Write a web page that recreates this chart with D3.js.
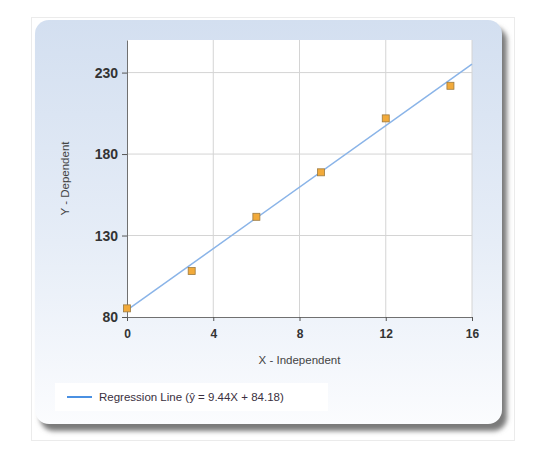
<!DOCTYPE html>
<html>
<head>
<meta charset="utf-8">
<script src="https://cdn.jsdelivr.net/npm/d3@7"></script>
<style>
  body { margin: 0; background: #fff; }
  svg { display: block; font-family: "Liberation Sans", Arial, sans-serif; }
</style>
</head>
<body>
<div id="chart"></div>
<script>
// 数据
var xValues = [0, 3, 6, 9, 12, 15];
var yValues = [85.3, 108.2, 141.5, 168.8, 201.9, 221.9];
var xTicks = [0, 4, 8, 12, 16];
var yTicks = [80, 130, 180, 230];
var slope = 9.44,
    intercept = 84.18;
var legendText = "Regression Line (ŷ = 9.44X + 84.18)";

var width = 560, height = 467;
var plot = {left: 127, right: 472, top: 40, bottom: 317};

var svg = d3.select('#chart').append('svg')
    .attr('width', width)
    .attr('height', height);

var defs = svg.append('defs');
var grad = defs.append('linearGradient')
    .attr('id', 'bg').attr('x1', 0).attr('y1', 0).attr('x2', 0).attr('y2', 1);
grad.append('stop').attr('offset', '0%').attr('stop-color', '#d3dff0');
grad.append('stop').attr('offset', '55%').attr('stop-color', '#e6edf7');
grad.append('stop').attr('offset', '100%').attr('stop-color', '#fbfcfe');

var blur = defs.append('filter').attr('id', 'shadow')
    .attr('x', '-10%').attr('y', '-10%').attr('width', '130%').attr('height', '130%');
blur.append('feGaussianBlur').attr('stdDeviation', 2.5);

// 外框
svg.append('rect')
    .attr('x', 31.5).attr('y', 17.5).attr('width', 483).attr('height', 423)
    .attr('fill', '#fff').attr('stroke', '#ebebeb');

// 阴影
svg.append('rect')
    .attr('x', 40).attr('y', 27).attr('width', 467).attr('height', 404)
    .attr('rx', 14)
    .attr('fill', '#7a7a7a')
    .attr('filter', 'url(#shadow)');

// 面板
svg.append('rect')
    .attr('x', 35).attr('y', 20).attr('width', 467).attr('height', 404)
    .attr('rx', 14)
    .attr('fill', 'url(#bg)');

// 绘图区
svg.append('rect')
    .attr('x', plot.left).attr('y', plot.top)
    .attr('width', plot.right - plot.left).attr('height', plot.bottom - plot.top)
    .attr('fill', '#fff');

var x = d3.scaleLinear().domain([0, 16]).range([plot.left, plot.right]);
var y = d3.scaleLinear().domain([80, 250]).range([plot.bottom, plot.top]);

// 网格线
svg.append('g').selectAll('line').data(xTicks.slice(1)).join('line')
    .attr('x1', d => x(d)).attr('x2', d => x(d))
    .attr('y1', plot.top).attr('y2', plot.bottom)
    .attr('stroke', '#d4d4d4');
svg.append('g').selectAll('line').data(yTicks.slice(1)).join('line')
    .attr('x1', plot.left).attr('x2', plot.right)
    .attr('y1', d => y(d)).attr('y2', d => y(d))
    .attr('stroke', '#d4d4d4');

// 坐标轴
var xAxis = svg.append('g')
    .attr('transform', 'translate(0,' + plot.bottom + ')')
    .call(d3.axisBottom(x).tickValues(xTicks).tickSize(4).tickSizeOuter(0).tickPadding(8));
var yAxis = svg.append('g')
    .attr('transform', 'translate(' + plot.left + ',0)')
    .call(d3.axisLeft(y).tickValues(yTicks).tickSize(5).tickSizeOuter(0).tickPadding(4));

[xAxis, yAxis].forEach(function (g) {
    g.select('.domain').attr('stroke', '#707070');
    g.selectAll('.tick line').attr('stroke', '#555');
    g.selectAll('.tick text')
        .attr('fill', '#333')
        .attr('font-weight', 'bold');
});
xAxis.selectAll('.tick text').attr('font-size', 12);
yAxis.selectAll('.tick text').attr('font-size', 14);

// 轴标题
svg.append('text')
    .attr('x', (plot.left + plot.right) / 2).attr('y', 364)
    .attr('text-anchor', 'middle')
    .attr('font-size', 11.5).attr('fill', '#444')
    .text('X - Independent');
svg.append('text')
    .attr('transform', 'translate(69,' + ((plot.top + plot.bottom) / 2) + ') rotate(-90)')
    .attr('text-anchor', 'middle')
    .attr('font-size', 11.5).attr('fill', '#444')
    .text('Y - Dependent');

// 回归线
svg.append('line')
    .attr('x1', x(0)).attr('y1', y(intercept))
    .attr('x2', x(16)).attr('y2', y(intercept + slope * 16))
    .attr('stroke', '#8ab4e8').attr('stroke-width', 1.5);

// 散点
svg.append('g').selectAll('rect').data(xValues).join('rect')
    .attr('x', (d, i) => x(d) - 3.5)
    .attr('y', (d, i) => y(yValues[i]) - 3.5)
    .attr('width', 7).attr('height', 7)
    .attr('fill', '#f2aa3a')
    .attr('stroke', '#9c7a40')
    .attr('stroke-width', 0.8);

// 图例
var legend = svg.append('g');
legend.append('rect')
    .attr('x', 55).attr('y', 383).attr('width', 273).attr('height', 28)
    .attr('fill', '#fff');
legend.append('line')
    .attr('x1', 67).attr('x2', 92).attr('y1', 397).attr('y2', 397)
    .attr('stroke', '#4a90e2').attr('stroke-width', 2);
legend.append('text')
    .attr('x', 99).attr('y', 401)
    .attr('font-size', 11.5).attr('fill', '#3a3040')
    .text(legendText);
</script>
</body>
</html>
